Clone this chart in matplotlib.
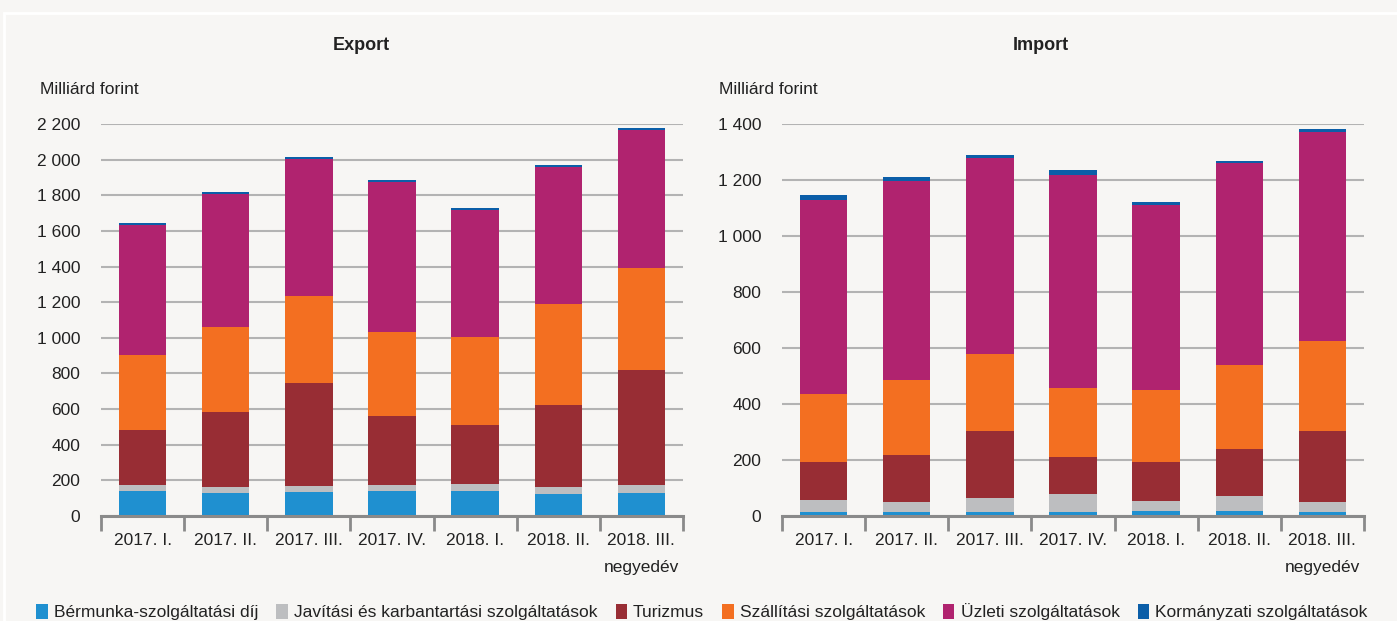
import matplotlib
matplotlib.use("Agg")
import matplotlib.pyplot as plt
from matplotlib import font_manager
from matplotlib.ticker import FuncFormatter, FixedLocator
from matplotlib.patches import Patch, Rectangle
import numpy as np

names = {f.name for f in font_manager.fontManager.ttflist}
FONT = "Liberation Sans Narrow" if "Liberation Sans Narrow" in names else "Liberation Sans"
plt.rcParams['font.family'] = [FONT, 'DejaVu Sans']

categories = ["2017. I.", "2017. II.", "2017. III.", "2017. IV.", "2018. I.", "2018. II.", "2018. III.\nnegyedév"]
series_names = ["Bérmunka-szolgáltatási díj", "Javítási és karbantartási szolgáltatások", "Turizmus",
                "Szállítási szolgáltatások", "Üzleti szolgáltatások", "Kormányzati szolgáltatások"]
colors = ["#1f90d0", "#bdbec0", "#982d34", "#f36f21", "#b0236f", "#0b5ea8"]

export_bermunka = [138, 127, 133, 138, 138, 121, 127]
export_javitas = [34, 34, 33, 34, 40, 40, 45]
export_turizmus = [308, 420, 578, 392, 330, 460, 650]
export_szallitas = [421, 482, 488, 466, 494, 566, 572]
export_uzleti = [734, 746, 773, 846, 717, 774, 774]
export_kormanyzati = [12, 11, 12, 12, 12, 11, 11]

import_bermunka = [14, 14, 14, 14, 18, 18, 14]
import_javitas = [43, 36, 50, 64, 35, 53, 36]
import_turizmus = [136, 167, 239, 132, 140, 168, 253]
import_szallitas = [242, 268, 275, 246, 256, 299, 321]
import_uzleti = [695, 713, 702, 763, 660, 721, 749]
import_kormanyzati = [15, 14, 11, 15, 11, 10, 10]

export_ticks = [0, 200, 400, 600, 800, 1000, 1200, 1400, 1600, 1800, 2000, 2200]
import_ticks = [0, 200, 400, 600, 800, 1000, 1200, 1400]

BG = "#f7f6f4"
TXT = "#222222"
W, H = 1397, 621
fig = plt.figure(figsize=(W / 100, H / 100), dpi=100, facecolor=BG)

# light frame line of the panel
fig.patches.append(Rectangle((4 / W, -0.1), 1.2, 1 - 12.5 / H + 0.1, transform=fig.transFigure,
                             fill=False, edgecolor="white", linewidth=2, zorder=0))

def fmt(v, pos):
    return f"{int(v):,}".replace(",", " ")

def draw(ax, data, ticks):
    ax.set_facecolor(BG)
    x = np.arange(len(categories))
    bottom = np.zeros(len(categories))
    for vals, c in zip(data, colors):
        ax.bar(x, vals, width=0.57, bottom=bottom, color=c, zorder=3, linewidth=0)
        bottom += np.array(vals)
    ax.set_xlim(-0.5, len(categories) - 0.5)
    ax.set_ylim(0, ticks[-1])
    ax.yaxis.set_major_locator(FixedLocator(ticks))
    ax.yaxis.set_major_formatter(FuncFormatter(fmt))
    ax.grid(axis='y', color="#b3b3b3", linewidth=1.5, zorder=0)
    for s in ["left", "right", "top"]:
        ax.spines[s].set_visible(False)
    ax.spines["bottom"].set_color("#8a8a8a")
    ax.spines["bottom"].set_linewidth(2.2)
    ax.spines["bottom"].set_zorder(4)
    ax.tick_params(axis='y', length=0, pad=15, labelsize=12.5, labelcolor=TXT)
    ax.set_xticks(x)
    ax.set_xticklabels(categories)
    ax.tick_params(axis='x', which='major', length=0, pad=12, labelsize=12.5, labelcolor=TXT)
    ax.set_xticks(np.arange(-0.5, len(categories)), minor=True)
    ax.tick_params(axis='x', which='minor', length=11, width=2, color="#8a8a8a", direction='out')
    for lab in ax.get_xticklabels():
        lab.set_linespacing(2.05)
        lab.set_verticalalignment('top')
    return ax

ax1 = fig.add_axes([101 / W, 1 - 516 / H, 582 / W, 392 / H])
draw(ax1, [export_bermunka, export_javitas, export_turizmus, export_szallitas, export_uzleti, export_kormanyzati],
     export_ticks)
ax2 = fig.add_axes([782 / W, 1 - 516 / H, 582 / W, 392 / H])
draw(ax2, [import_bermunka, import_javitas, import_turizmus, import_szallitas, import_uzleti, import_kormanyzati],
     import_ticks)

fig.text(361 / W, 1 - 46 / H, "Export", ha='center', va='center', fontsize=13, fontweight='bold', color=TXT)
fig.text(1041 / W, 1 - 46 / H, "Import", ha='center', va='center', fontsize=13, fontweight='bold', color=TXT)
fig.text(40 / W, 1 - 90 / H, "Milliárd forint", ha='left', va='center', fontsize=12.5, color=TXT)
fig.text(719 / W, 1 - 90 / H, "Milliárd forint", ha='left', va='center', fontsize=12.5, color=TXT)

handles = [Patch(facecolor=c, edgecolor='none') for c in colors]
fig.legend(handles, series_names, loc='center', bbox_to_anchor=(702 / W, 1 - 612 / H), ncol=6,
           frameon=False, fontsize=12.5, handlelength=0.65, handleheight=0.9, handletextpad=0.35,
           columnspacing=1.05, labelcolor=TXT)

fig.savefig("out.png", dpi=100, facecolor=BG)
